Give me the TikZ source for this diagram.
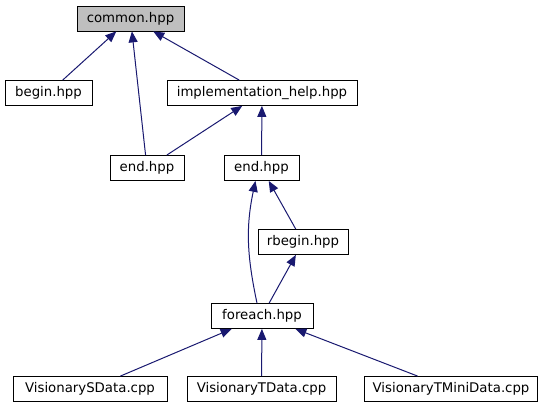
\documentclass[tikz,border=0pt]{standalone}
\usepackage{fontspec}
\setmainfont{DejaVu Sans}
\usetikzlibrary{arrows.meta}
\definecolor{midnight}{HTML}{191970}
\definecolor{nodegray}{HTML}{BFBFBF}
\begin{document}
\begin{tikzpicture}[
        x=1pt, y=-1pt,
        file/.style={draw, thick, rectangle, minimum height=25pt, inner xsep=8pt, font=\fontsize{13.3}{15}\selectfont},
        edge/.style={draw=midnight, line width=1pt, -{Triangle[length=11pt,width=9pt]}}
    ]
    \useasboundingbox (0,0) rectangle (544,411);

    % Headers
    \node[file, fill=nodegray, minimum width=107pt] (common) at (130.5,18.5) {common.hpp};
    \node[file, minimum width=87pt] (begin) at (48.5,93) {begin.hpp};
    \node[file, minimum width=190pt] (impl) at (262,93) {implementation\_help.hpp};
    \node[file, minimum width=74pt] (endA) at (147,168) {end.hpp};
    \node[file, minimum width=75pt] (endB) at (261.5,168) {end.hpp};
    \node[file, minimum width=90pt] (rbegin) at (303,242) {rbegin.hpp};
    \node[file, minimum width=102pt] (foreach) at (262,316) {foreach.hpp};

    % Sources
    \node[file, minimum width=154pt] (sdata) at (90,389) {VisionarySData.cpp};
    \node[file, minimum width=149pt] (tdata) at (261.5,389) {VisionaryTData.cpp};
    \node[file, minimum width=172pt] (tmini) at (451,389) {VisionaryTMiniData.cpp};

    % Includes
    \draw[edge] (begin) -- (common);
    \draw[edge] (endA) -- (common);
    \draw[edge] (impl) -- (common);
    \draw[edge] (endA) -- (impl);
    \draw[edge] (endB) -- (impl);
    \draw[edge] (rbegin) -- (endB);
    \draw[edge] ([xshift=-5pt]foreach.north) to[out=102, in=-102] ([xshift=-6pt]endB.south);
    \draw[edge] (foreach) -- (rbegin);
    \draw[edge] (sdata) -- (foreach);
    \draw[edge] (tdata) -- (foreach);
    \draw[edge] (tmini) -- (foreach);

\end{tikzpicture}
\end{document}
